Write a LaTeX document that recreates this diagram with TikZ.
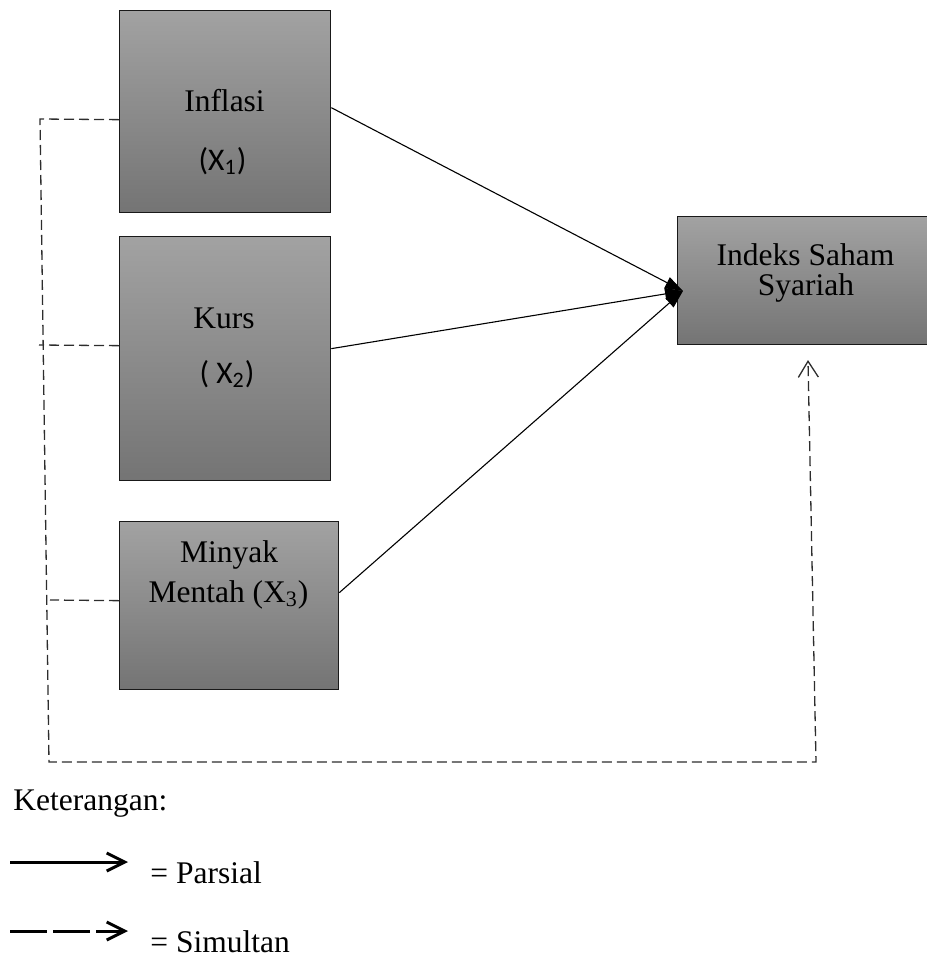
\documentclass[tikz,border=0pt]{standalone}
\usepackage{fontspec}
\setmainfont{Liberation Serif}
\newfontfamily\calibrifont{Carlito}
\usetikzlibrary{arrows.meta,calc}
\definecolor{boxtop}{RGB}{162,162,162}
\definecolor{boxbot}{RGB}{116,116,116}
\definecolor{dashgray}{RGB}{45,45,45}
\begin{document}
\begin{tikzpicture}[x=0.5pt,y=-0.5pt,
  varbox/.style={draw=black!90,line width=0.65pt,top color=boxtop,bottom color=boxbot,rectangle,inner sep=0pt,anchor=north west},
  lbl/.style={font=\fontsize{15.75}{19}\selectfont,inner sep=0pt,anchor=base},
  lblw/.style={font=\fontsize{15.75}{19}\selectfont,inner sep=0pt,anchor=base west},
  partial/.style={line width=0.55pt,-{Triangle[length=9pt,width=6pt]}},
  simul/.style={draw=dashgray,line width=0.65pt,dash pattern=on 5pt off 2.5pt},
  legarrow/.style={line width=1.5pt,-{Straight Barb[length=9pt,width=9pt]}}
]
\useasboundingbox (0,0) rectangle (927,960);

% boxes
\node[varbox,minimum width=105.5pt,minimum height=101pt] (infl) at (119,10) {};
\node[varbox,minimum width=105.5pt,minimum height=122pt] (kurs) at (119,236) {};
\node[varbox,minimum width=109.5pt,minimum height=84pt] (miny) at (119,521) {};
\node[varbox,minimum width=127.5pt,minimum height=64pt] (ind) at (677,216) {};

% texts
\node[lbl] (tinfl) at (224.5,111) {Inflasi};
\node[lbl,font=\fontsize{15.75}{19}\calibrifont] (tx1) at (222.5,170) {(X\textsubscript{1})};
\node[lbl] (tkurs) at (224,328) {Kurs};
\node[lbl,font=\fontsize{15.75}{19}\calibrifont] (tx2) at (227,383) {( X\textsubscript{2})};
\node[lbl] (tminy) at (229,562) {Minyak};
\node[lbl] (tment) at (228.5,602) {Mentah (X\textsubscript{3})};
\node[lbl] (tind1) at (805.5,265) {Indeks Saham};
\node[lbl] (tind2) at (806,295) {Syariah};

% partial connectors
\coordinate (tip) at (683,291);
\draw[partial] ([yshift=2pt]infl.east) -- (tip);
\draw[partial] ([yshift=5pt]kurs.east) -- (tip);
\draw[partial] ([yshift=6.5pt]miny.east) -- (tip);

% simultaneous connectors
\coordinate (lt) at (40,119);
\coordinate (lb) at (49,762);
\coordinate (rb) at (816,762);
\coordinate (rt) at (808,360);
\coordinate (kl) at (39,345);
\coordinate (ml) at (50,600);
\draw[simul,-{Straight Barb[length=8pt,width=10pt]}] ([yshift=-4pt]infl.west) -- (lt) -- (lb) -- (rb) -- (rt);
\draw[simul] ([yshift=6.5pt]kurs.west) -- (kl);
\draw[simul] ([yshift=2.5pt]miny.west) -- (ml);

% legend
\node[lblw] (ket) at (13,810) {Keterangan:};
\coordinate (pa) at (10,862);
\coordinate (pb) at (128,862);
\draw[legarrow] (pa) -- (pb);
\node[lblw] (tpar) at (150,883) {= Parsial};
\coordinate (sa) at (10,931);
\coordinate (sb) at (128,931);
\draw[legarrow,dash pattern=on 18.5pt off 3pt] (sa) -- (sb);
\node[lblw] (tsim) at (150,952) {= Simultan};
\end{tikzpicture}
\end{document}
